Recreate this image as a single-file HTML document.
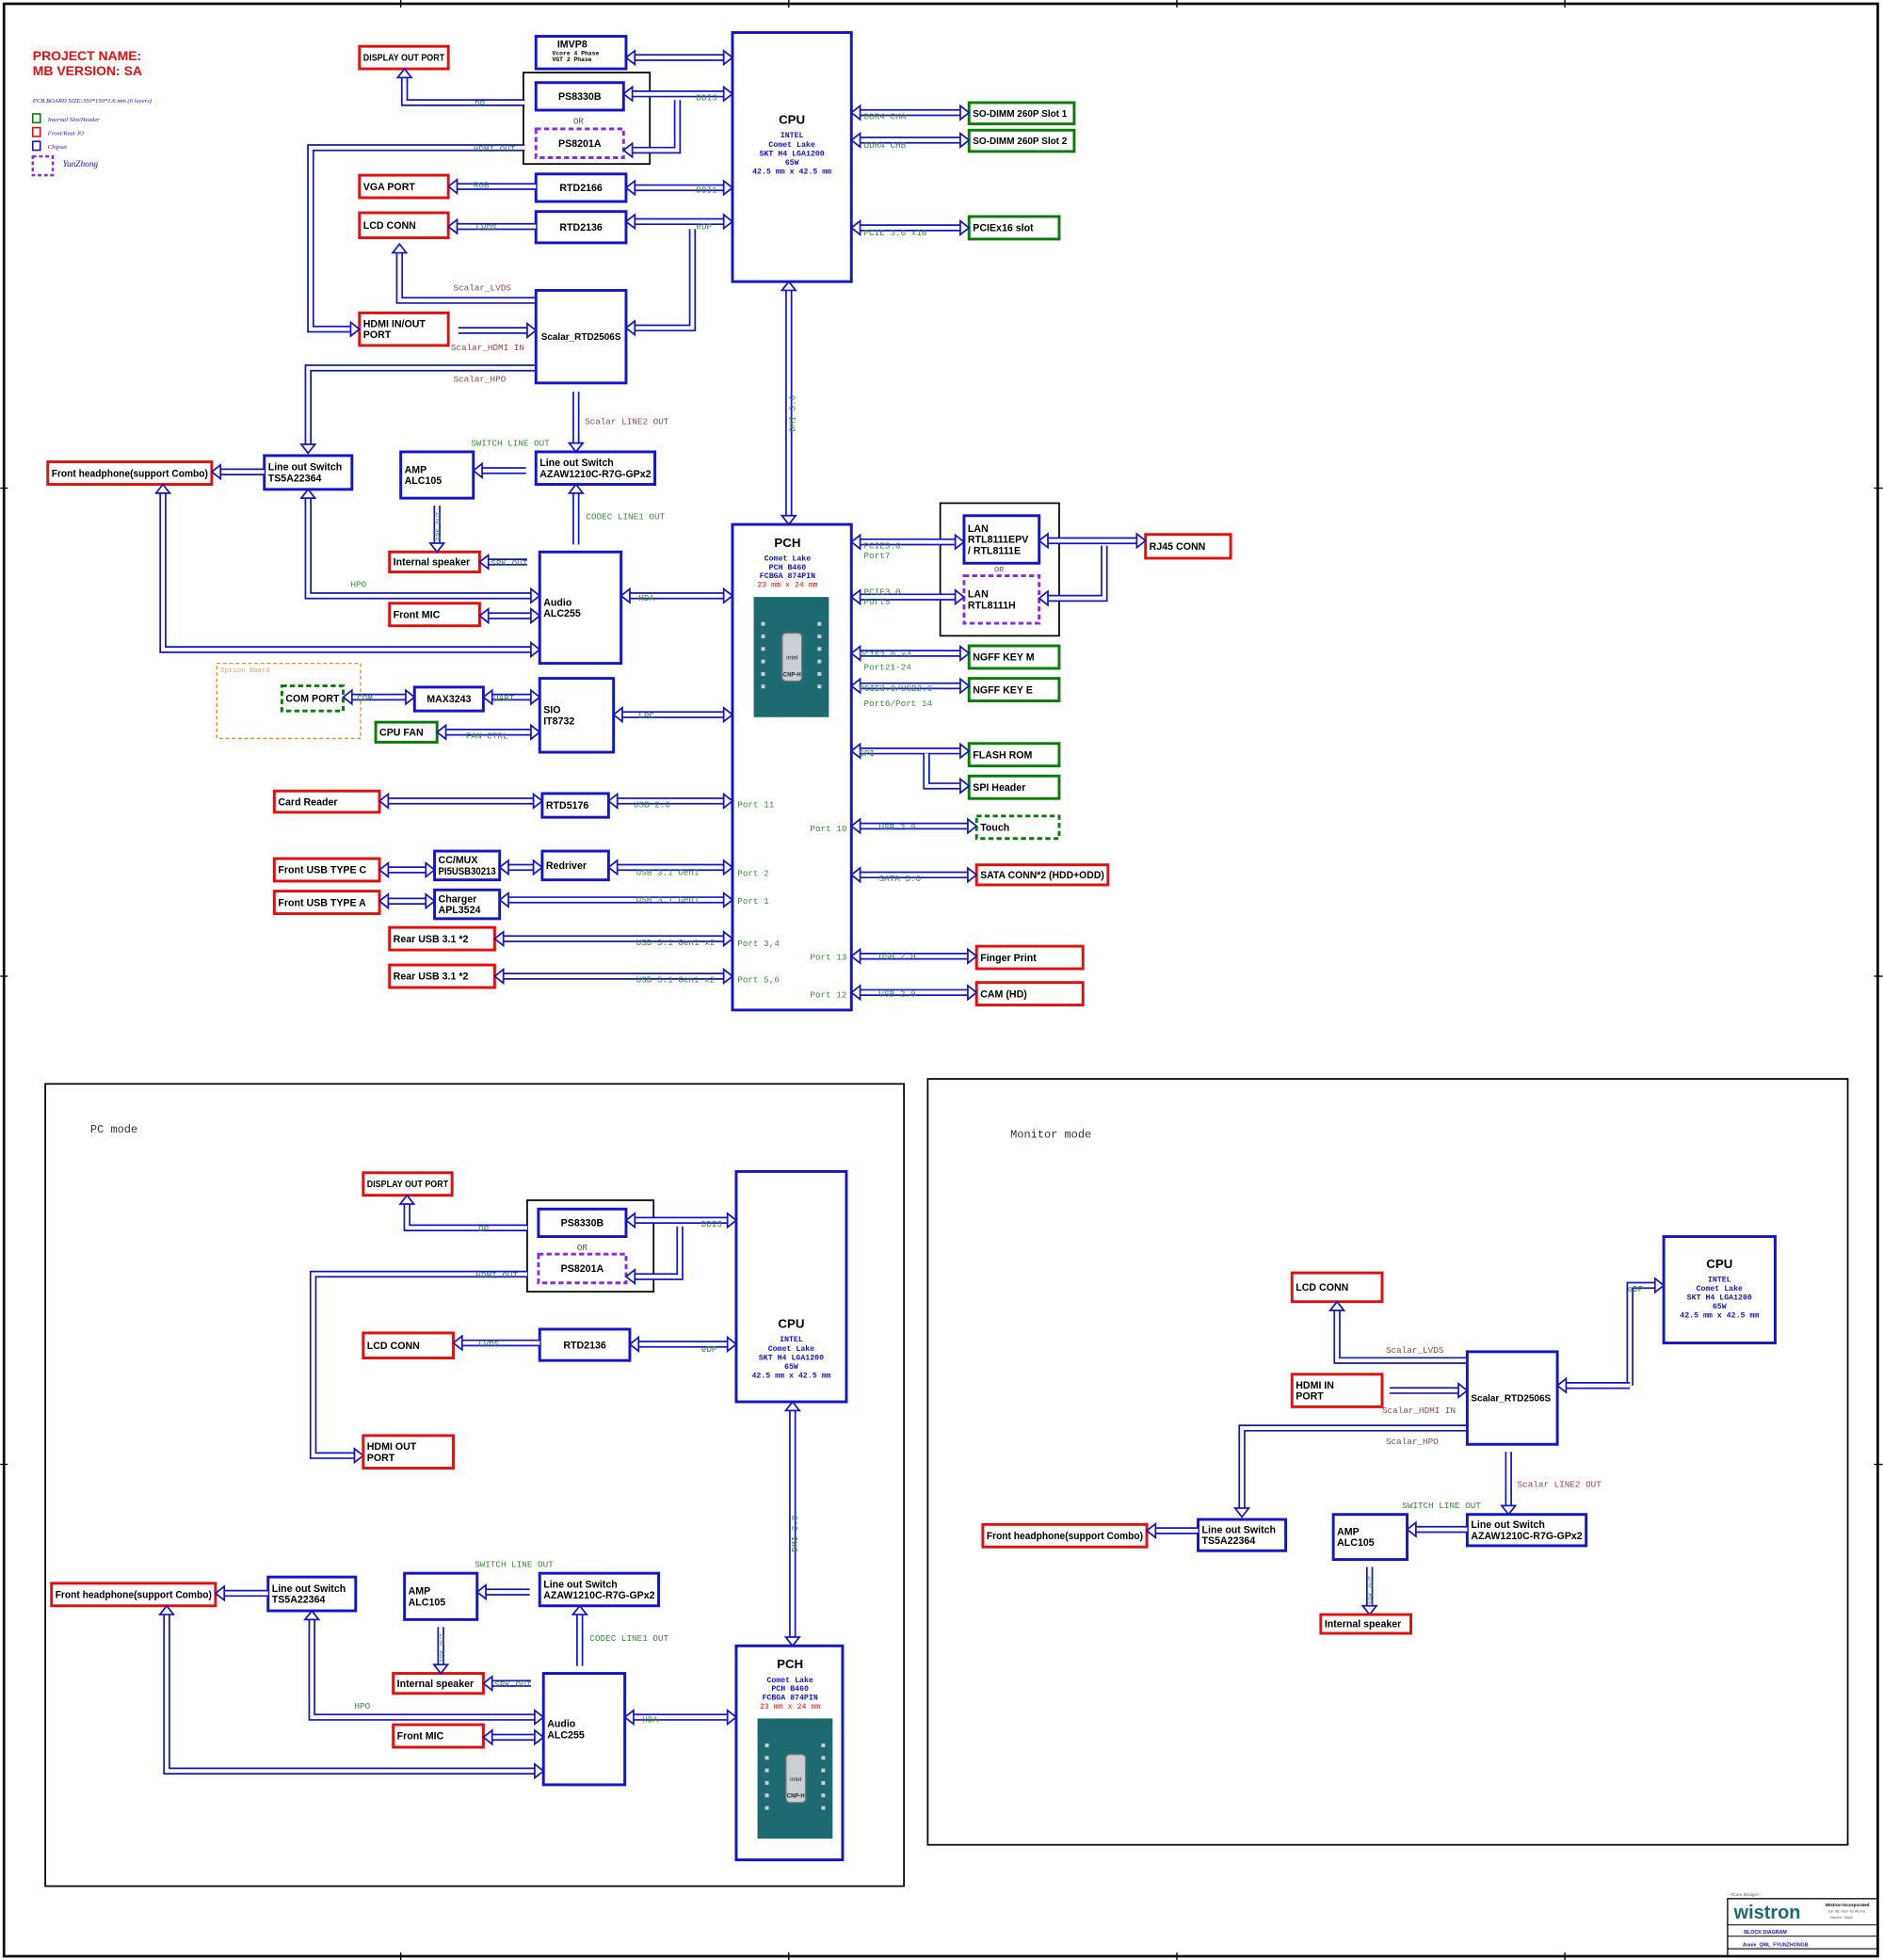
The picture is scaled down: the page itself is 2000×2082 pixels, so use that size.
<!DOCTYPE html>
<html><head><meta charset="utf-8"><style>
html,body{margin:0;padding:0;background:#fff;}
svg{display:block;}
</style></head><body>
<svg id="s" xmlns="http://www.w3.org/2000/svg" width="2000" height="2082" viewBox="0 0 1504 1566" font-family="Liberation Sans, sans-serif">
<rect x="0" y="0" width="1504" height="1566" fill="#fff"/>
</svg>
<script>
const S=document.getElementById('s');const NS='http://www.w3.org/2000/svg';
const B='#1414c8',R='#e01010',G='#0a7a0a',P='#8a2be2',LG='#3a8a3a',BR='#8b4a4a';
function el(t,a,txt){const e=document.createElementNS(NS,t);for(const k in a)e.setAttribute(k,a[k]);if(txt!==undefined)e.textContent=txt;S.appendChild(e);return e;}
function tx(x,y,s,o={}){const e=el('text',Object.assign({x:x,y:y,'font-size':o.fs||8,fill:o.c||'#000','font-weight':o.b?'bold':'normal','font-family':o.mono?'Liberation Mono, monospace':(o.serif?'Liberation Serif, serif':'Liberation Sans, sans-serif'),'text-anchor':o.a||'start','font-style':o.i?'italic':'normal'},o.tr?{transform:o.tr}:{}),s);
 if(o.maxw){try{if(e.getComputedTextLength()>o.maxw){e.setAttribute('textLength',o.maxw);e.setAttribute('lengthAdjust','spacingAndGlyphs');}}catch(err){}}
 return e;}
function box(x,y,w,h,c,lines,o={}){el('rect',{x:x,y:y,width:w,height:h,fill:'none',stroke:c,'stroke-width':o.sw||2.2,'stroke-dasharray':o.d?'4,2.5':'none'});
 const fs=o.fs||8;const n=lines.length;const y0=y+h/2-(n-1)*fs*0.55+fs*0.35;
 lines.forEach((l,i)=>tx(o.cx?x+w/2:x+3,y0+i*fs*1.1,l,{fs:fs,b:true,a:o.cx?'middle':'start',maxw:w-6}));}
function head(p,q){
 const dx=q[0]-p[0],dy=q[1]-p[1],L=Math.hypot(dx,dy),ux=dx/L,uy=dy/L,hl=7,hw=5.5;
 const bx=q[0]-ux*hl,by=q[1]-uy*hl;
 el('polygon',{points:`${q[0]},${q[1]} ${bx-uy*hw},${by+ux*hw} ${bx+uy*hw},${by-ux*hw}`,fill:'#fff',stroke:B,'stroke-width':1.3,'stroke-linejoin':'miter'});}
function arr(pts,hs,he){const p=pts.map(a=>a.slice());
 function sh(a,b){const dx=a[0]-b[0],dy=a[1]-b[1],L=Math.hypot(dx,dy);a[0]=a[0]-dx/L*6;a[1]=a[1]-dy/L*6;}
 if(hs)sh(p[0],p[1]);const n=p.length;if(he)sh(p[n-1],p[n-2]);
 const s=p.map(a=>a.join(',')).join(' ');
 el('polyline',{points:s,fill:'none',stroke:B,'stroke-width':5.6,'stroke-linejoin':'miter'});
 el('polyline',{points:s,fill:'none',stroke:'#fff','stroke-width':3,'stroke-linejoin':'miter'});
 if(hs)head(pts[1],pts[0]);if(he)head(pts[n-2],pts[n-1]);}
function lab(x,y,s,c){tx(x,y,s,{fs:7,mono:true,c:c||LG});}
function chip(x,y,w,h){el('rect',{x:x,y:y,width:w,height:h,fill:'#1d6a70'});
 el('rect',{x:x+w*0.38,y:y+h*0.3,width:w*0.26,height:h*0.4,rx:3,fill:'#c9cfd3',stroke:'#777'});
 tx(x+w*0.51,y+h*0.52,'intel',{fs:5,a:'middle',c:'#224'});tx(x+w*0.51,y+h*0.66,'CNP-H',{fs:4.5,a:'middle',c:'#222',b:true});
 for(let i=0;i<6;i++){el('rect',{x:x+6,y:y+20+i*10,width:3,height:3,fill:'#ccc'});el('rect',{x:x+w-9,y:y+20+i*10,width:3,height:3,fill:'#ccc'});}}
function cpu(x,y,w,h,ty){box(x,y,w,h,B,[]);tx(x+w/2,ty,'CPU',{fs:10,b:true,a:'middle'});
 ['INTEL','Comet Lake','SKT H4 LGA1200','65W','42.5 mm x 42.5 mm'].forEach((s,i)=>tx(x+w/2,ty+11+i*7.2,s,{fs:6.2,mono:true,b:true,c:B,a:'middle'}));}
function pch(x,y,w,h,cx){box(x,y,w,h,B,[]);tx(cx,y+18,'PCH',{fs:10,b:true,a:'middle'});
 ['Comet Lake','PCH B460','FCBGA 874PIN'].forEach((s,i)=>tx(cx,y+29+i*7,s,{fs:6.2,mono:true,b:true,c:B,a:'middle'}));
 tx(cx,y+50,'23 mm x 24 mm',{fs:6.2,mono:true,c:R,a:'middle'});}

el('rect',{x:3,y:3,width:1497,height:1560,fill:'none',stroke:'#000','stroke-width':2});
[320,630,940,1250].forEach(x=>el('line',{x1:x,y1:0,x2:x,y2:6,stroke:'#000'}));
[320,630,940,1250].forEach(x=>el('line',{x1:x,y1:1560,x2:x,y2:1566,stroke:'#000'}));
[390,780,1170].forEach(y=>{el('line',{x1:0,y1:y,x2:6,y2:y,stroke:'#000'});el('line',{x1:1497,y1:y,x2:1504,y2:y,stroke:'#000'});});

tx(26,48,'PROJECT NAME:',{fs:10.5,b:true,c:R});tx(26,60,'MB VERSION: SA',{fs:10.5,b:true,c:R});
tx(26,82,'PCB BOARD SIZE:350*150*1.6 mm (6 layers)',{fs:5,i:true,serif:true,c:B});
el('rect',{x:26,y:91,width:6,height:7,fill:'none',stroke:G,'stroke-width':1.2});tx(38,97,'Internal Slot/Header',{fs:5,i:true,serif:true,c:B});
el('rect',{x:26,y:102,width:6,height:7,fill:'none',stroke:R,'stroke-width':1.2});tx(38,108,'Front/Rear IO',{fs:5,i:true,serif:true,c:B});
el('rect',{x:26,y:113,width:6,height:7,fill:'none',stroke:B,'stroke-width':1.2});tx(38,119,'Chipset',{fs:5,i:true,serif:true,c:B});
el('rect',{x:26,y:125,width:16,height:15,fill:'none',stroke:P,'stroke-width':1.8,'stroke-dasharray':'3,2'});tx(50,133,'YunZhong',{fs:7,i:true,serif:true,c:B});

box(287,37,71,18,R,['DISPLAY OUT PORT'],{fs:7.5});
box(428,29,72,26,B,[]);tx(445,38,'IMVP8',{fs:8,b:true});tx(441,44,'Vcore 4 Phase',{fs:4.8,mono:true,b:true});tx(441,49,'VGT 2 Phase',{fs:4.8,mono:true,b:true});
el('rect',{x:418,y:58,width:101,height:73,fill:'none',stroke:'#000','stroke-width':1.3});
box(428,66,70,22,B,['PS8330B'],{cx:true});
tx(462,99,'OR',{fs:7,mono:true,c:'#555',a:'middle'});
box(428,103,70,23,P,['PS8201A'],{cx:true,d:true});
cpu(585,26,95,199,99);
box(428,139,72,22,B,['RTD2166'],{cx:true});
box(287,140,71,18,R,['VGA PORT']);
box(287,170,71,20,R,['LCD CONN']);
box(428,169,72,25,B,['RTD2136'],{cx:true});
box(428,232,72,74,B,['Scalar_RTD2506S'],{cx:true,fs:7.5});
box(287,250,71,26,R,['HDMI IN/OUT','PORT']);
box(774,82,84,17,G,['SO-DIMM 260P Slot 1'],{fs:7.5});
box(774,104,84,17,G,['SO-DIMM 260P Slot 2'],{fs:7.5});
box(774,173,72,18,G,['PCIEx16 slot']);

arr([[500,46],[585,46]],1,1);
arr([[498,75],[585,75]],1,1);lab(556,80,'DDI3');
arr([[541,80],[541,120],[498,120]],0,1);
arr([[419,82],[323,82],[323,55]],0,1);lab(379,85,'DP');
arr([[419,118],[248,118],[248,263],[287,263]],0,1);lab(378,121,'HDMI OUT');
arr([[428,149],[358,149]],0,1);lab(378,150,'RGB');
arr([[500,150],[585,150]],1,1);lab(556,154,'DDI1');
arr([[428,181],[358,181]],0,1);lab(380,184,'LVDS');
arr([[500,177],[585,177]],1,1);lab(556,183,'eDP');
arr([[553,183],[553,262],[500,262]],0,1);
arr([[427,240],[319,240],[319,195]],0,1);lab(362,232,'Scalar_LVDS',BR);
arr([[366,264],[428,264]],0,1);lab(360,280,'Scalar_HDMI IN',BR);
arr([[427,294],[246,294],[246,362]],0,1);lab(362,305,'Scalar_HPO',BR);
arr([[460,313],[460,361]],0,1);lab(467,339,'Scalar LINE2 OUT',BR);
arr([[630,225],[630,419]],1,1);tx(635,345,'DMI 3.0',{fs:7,mono:true,c:LG,tr:'rotate(-90 635 345)'});
arr([[680,90],[774,90]],1,1);lab(690,95,'DDR4 CHA');
arr([[680,112],[774,112]],1,1);lab(690,118,'DDR4 CHB');
arr([[680,182],[774,182]],1,1);lab(690,188,'PCIE 3.0 x16');

function audio(dx,dy){
 box(211+dx,364+dy,70,27,B,['Line out Switch','TS5A22364']);
 box(38+dx,369+dy,131,18,R,['Front headphone(support Combo)']);
 box(320+dx,361+dy,58,37,B,['AMP','ALC105']);
 box(428+dx,361+dy,95,26,B,['Line out Switch','AZAW1210C-R7G-GPx2']);
 box(311+dx,441+dy,72,16,R,['Internal speaker']);
 box(431+dx,441+dy,65,89,B,['Audio','ALC255']);
 box(311+dx,482+dy,72,18,R,['Front MIC']);
 arr([[211+dx,377+dy],[169+dx,377+dy]],0,1);
 arr([[420+dx,376+dy],[378+dx,376+dy]],0,1);lab(376+dx,356+dy,'SWITCH LINE OUT');
 arr([[349+dx,404+dy],[349+dx,441+dy]],0,1);tx(352+dx,432+dy,'SPK OUT',{fs:5.5,mono:true,c:LG,tr:`rotate(-90 ${352+dx} ${432+dy})`});
 arr([[421+dx,449+dy],[383+dx,449+dy]],0,1);lab(392+dx,452+dy,'SPK OUT');
 arr([[460+dx,435+dy],[460+dx,387+dy]],0,1);lab(468+dx,415+dy,'CODEC LINE1 OUT');
 arr([[431+dx,476+dy],[246+dx,476+dy],[246+dx,391+dy]],1,1);lab(280+dx,469+dy,'HPO');
 arr([[383+dx,492+dy],[431+dx,492+dy]],1,1);
 arr([[431+dx,519+dy],[130+dx,519+dy],[130+dx,387+dy]],1,1);
 arr([[496+dx,476+dy],[585+dx,476+dy]],1,1);lab(510+dx,480+dy,'HDA');
}
audio(0,0);

pch(585,419,95,388,629);chip(602,477,60,96);
el('rect',{x:173,y:530,width:115,height:60,fill:'none',stroke:'#e0902a','stroke-width':1,'stroke-dasharray':'3,2'});tx(176,537,'Option Board',{fs:5.5,mono:true,c:'#e0a060'});
box(225,548,49,20,G,['COM PORT'],{d:true});
box(331,549,55,19,B,['MAX3243'],{cx:true});
arr([[274,557],[331,557]],1,1);lab(285,560,'COM');
arr([[386,557],[431,557]],1,1);lab(394,560,'UART');
box(431,542,59,59,B,['SIO','IT8732']);
box(300,577,49,16,G,['CPU FAN']);
arr([[349,585],[431,585]],1,1);lab(372,590,'FAN CTRL');
arr([[490,571],[585,571]],1,1);lab(510,574,'LPC');
box(219,632,84,17,R,['Card Reader']);
arr([[303,640],[433,640]],1,1);
box(433,634,53,19,B,['RTD5176']);
arr([[486,640],[585,640]],1,1);lab(506,645,'USB 2.0');lab(589,645,'Port 11');
box(219,686,84,18,R,['Front USB TYPE C']);arr([[303,695],[347,695]],1,1);
box(347,680,52,23,B,['CC/MUX','PI5USB30213']);arr([[399,693],[433,693]],1,1);
box(433,680,53,23,B,['Redriver']);arr([[486,693],[585,693]],1,1);lab(508,699,'USB 3.1 Gen1');lab(589,700,'Port 2');
box(219,712,84,18,R,['Front USB TYPE A']);arr([[303,720],[347,720]],1,1);
box(347,711,52,23,B,['Charger','APL3524']);arr([[399,719],[585,719]],1,1);lab(508,721,'USB 3.1 Gen1');lab(589,722,'Port 1');
box(311,741,84,18,R,['Rear USB 3.1 *2']);arr([[395,750],[585,750]],1,1);lab(508,755,'USB 3.1 Gen1 x2');lab(589,756,'Port 3,4');
box(311,771,84,18,R,['Rear USB 3.1 *2']);arr([[395,780],[585,780]],1,1);lab(508,785,'USB 3.1 Gen1 x2');lab(589,785,'Port 5,6');

el('rect',{x:751,y:402,width:95,height:106,fill:'none',stroke:'#000','stroke-width':1.3});
box(770,412,60,38,B,['LAN','RTL8111EPV','/ RTL8111E']);
tx(798,457,'OR',{fs:6.5,mono:true,c:'#555',a:'middle'});
box(770,460,60,38,P,['LAN','RTL8111H'],{d:true});
box(915,427,68,19,R,['RJ45 CONN']);
arr([[680,433],[770,433]],1,1);lab(690,438,'PCIE3.0');lab(690,446,'Port7');
arr([[680,477],[770,477]],1,1);lab(690,475,'PCIE3.0');lab(690,483,'Port5');
arr([[830,432],[915,432]],1,1);
arr([[882,436],[882,478],[830,478]],0,1);
box(774,516,72,18,G,['NGFF KEY M']);arr([[680,522],[774,522]],1,1);lab(686,525,'PCIE3.0 x4');lab(690,535,'Port21-24');
box(774,542,72,18,G,['NGFF KEY E']);arr([[680,548],[774,548]],1,1);lab(686,552,'PCIE3.0/USB2.0');lab(690,564,'Port6/Port 14');
box(774,594,72,18,G,['FLASH ROM']);box(774,620,72,18,G,['SPI Header']);
arr([[680,600],[774,600]],1,1);lab(686,604,'SPI');
arr([[740,602],[740,628],[774,628]],0,1);
box(780,652,66,18,G,['Touch'],{d:true});arr([[680,660],[780,660]],1,1);lab(702,663,'USB 2.0');lab(647,664,'Port 10');
box(780,691,105,16,R,['SATA CONN*2 (HDD+ODD)']);arr([[680,699],[780,699]],1,1);lab(702,704,'SATA 3.0');
box(780,756,85,18,R,['Finger  Print']);arr([[680,764],[780,764]],1,1);lab(702,766,'USB 2.0');lab(647,767,'Port 13');
box(780,785,85,18,R,['CAM (HD)']);arr([[680,793],[780,793]],1,1);lab(702,796,'USB 2.0');lab(647,797,'Port 12');

el('rect',{x:36,y:866,width:686,height:641,fill:'none',stroke:'#000','stroke-width':1.3});
tx(72,905,'PC mode',{fs:9,mono:true,c:'#333'});
box(290,937,71,18,R,['DISPLAY OUT PORT'],{fs:7.5});
el('rect',{x:421,y:959,width:101,height:73,fill:'none',stroke:'#000','stroke-width':1.3});
box(430,966,70,22,B,['PS8330B'],{cx:true});
tx(465,999,'OR',{fs:7,mono:true,c:'#555',a:'middle'});
box(430,1002,70,23,P,['PS8201A'],{cx:true,d:true});
cpu(588,936,88,184,1061);
arr([[500,975],[588,975]],1,1);lab(560,980,'DDI3');
arr([[543,980],[543,1020],[500,1020]],0,1);
arr([[421,981],[325,981],[325,955]],0,1);lab(382,984,'DP');
arr([[421,1018],[250,1018],[250,1163],[290,1163]],0,1);lab(380,1021,'HDMI OUT');
box(290,1065,72,20,R,['LCD CONN']);
box(431,1062,72,25,B,['RTD2136'],{cx:true});
arr([[431,1073],[362,1073]],0,1);lab(382,1076,'LVDS');
arr([[503,1074],[588,1074]],1,1);lab(560,1080,'eDP');
box(290,1147,72,26,R,['HDMI OUT','PORT']);
arr([[633,1120],[633,1315]],1,1);tx(637,1240,'DMI 3.0',{fs:7,mono:true,c:LG,tr:'rotate(-90 637 1240)'});
pch(588,1315,85,171,631);chip(605,1373,60,96);
audio(3,896);

el('rect',{x:741,y:862,width:735,height:612,fill:'none',stroke:'#000','stroke-width':1.3});
tx(807,909,'Monitor mode',{fs:9,mono:true,c:'#333'});
cpu(1329,988,89,85,1013);
box(1032,1017,72,23,R,['LCD CONN']);
box(1032,1098,72,26,R,['HDMI IN','PORT']);
box(1172,1080,72,74,B,['Scalar_RTD2506S'],{fs:7.5});
arr([[1171,1087],[1068,1087],[1068,1040]],0,1);lab(1107,1081,'Scalar_LVDS',BR);
arr([[1110,1111],[1172,1111]],0,1);lab(1104,1129,'Scalar_HDMI IN',BR);
arr([[1302,1107],[1302,1027],[1329,1027]],0,1);
arr([[1302,1107],[1244,1107]],0,1);lab(1300,1032,'eDP');
arr([[1171,1141],[992,1141],[992,1212]],0,1);lab(1107,1154,'Scalar_HPO',BR);
arr([[1205,1160],[1205,1210]],0,1);lab(1212,1188,'Scalar LINE2 OUT',BR);
box(957,1214,70,25,B,['Line out Switch','TS5A22364']);
box(785,1218,131,18,R,['Front headphone(support Combo)']);
arr([[957,1223],[916,1223]],0,1);
box(1065,1210,59,36,B,['AMP','ALC105']);
box(1172,1210,95,25,B,['Line out Switch','AZAW1210C-R7G-GPx2']);
arr([[1172,1222],[1124,1222]],0,1);lab(1120,1205,'SWITCH LINE OUT');
arr([[1094,1252],[1094,1290]],0,1);tx(1097,1282,'SPK OUT',{fs:5.5,mono:true,c:LG,tr:'rotate(-90 1097 1282)'});
box(1055,1290,72,15,R,['Internal speaker']);

tx(1382,1515,'<Core Design>',{fs:3.5,c:'#555'});
el('rect',{x:1380,y:1517,width:120,height:46,fill:'none',stroke:'#000','stroke-width':1});
el('line',{x1:1380,y1:1538,x2:1500,y2:1538,stroke:'#000','stroke-width':0.8});
el('line',{x1:1380,y1:1547,x2:1500,y2:1547,stroke:'#000','stroke-width':0.8});
el('line',{x1:1380,y1:1557,x2:1500,y2:1557,stroke:'#000','stroke-width':0.8});
tx(1385,1533,'wistron',{fs:15,b:true,c:'#1d6a70'});
tx(1458,1523,'Wistron Incorporated',{fs:3.5,b:true});tx(1460,1528,'10F, 88, Hsin Tai Wu Rd',{fs:2.8,c:'#555'});tx(1462,1533,'Hsichih, Taipei',{fs:2.8,c:'#555'});
tx(1393,1545,'BLOCK DIAGRAM',{fs:4,b:true,c:B});
tx(1392,1555,'Annie_QML_FYUNZHONGB',{fs:4,b:true,c:B});
</script>
</body></html>
